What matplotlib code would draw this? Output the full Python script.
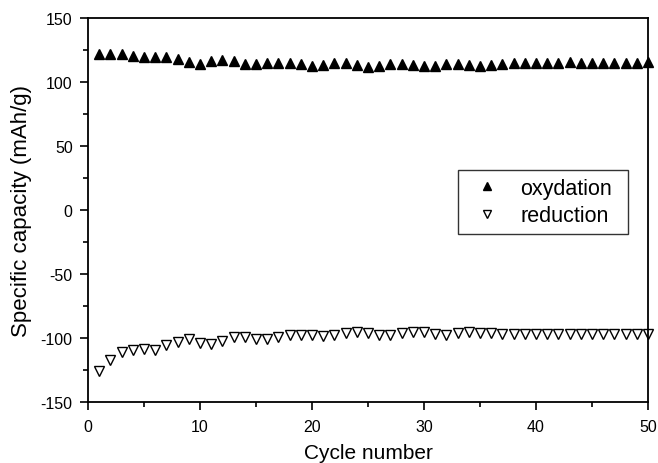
import matplotlib
matplotlib.use("Agg")
import matplotlib.pyplot as plt
from matplotlib.ticker import MultipleLocator

plt.rcParams['font.family'] = ['Liberation Sans', 'DejaVu Sans']
plt.rcParams['axes.unicode_minus'] = False

cycles = list(range(1, 51))
oxydation = [121.5, 121.5, 121.5, 120.2, 119.7, 119.7, 119.7, 117.6, 115.3, 114.0,
             116.3, 117.1, 116.3, 114.0, 114.0, 114.5, 114.5, 114.5, 114.0, 112.7,
             113.2, 114.5, 114.5, 113.2, 111.9, 112.4, 114.0, 114.0, 113.2, 112.4,
             112.4, 114.0, 114.0, 113.2, 112.4, 113.2, 114.0, 115.0, 115.0, 114.5,
             114.5, 114.5, 115.8, 115.0, 115.0, 114.5, 114.5, 115.0, 115.0, 115.3]
reduction = [-126.1, -117.1, -111.3, -109.4, -108.6, -109.4, -105.5, -102.9, -100.8, -104.0,
             -104.8, -102.7, -99.6, -99.6, -100.4, -100.4, -99.6, -97.7, -97.7, -97.7,
             -98.8, -97.7, -96.4, -95.6, -96.2, -97.5, -97.5, -96.4, -95.6, -95.1,
             -96.9, -97.5, -96.4, -95.6, -96.2, -96.4, -96.9, -96.9, -96.9, -96.9,
             -96.9, -96.9, -96.9, -96.9, -96.9, -96.9, -96.9, -96.9, -96.9, -96.9]

fig = plt.figure(figsize=(6.58, 4.64), dpi=100)
ax = fig.add_axes([88/658, 1 - 403/464, 560/658, 384/464])

ax.plot(cycles, oxydation, linestyle='none', marker='^', markersize=6.5,
        color='black', label='oxydation', clip_on=False)
ax.plot(cycles, reduction, linestyle='none', marker='v', markersize=6.5,
        markerfacecolor='white', markeredgecolor='black', markeredgewidth=1.0,
        label='reduction', clip_on=False)

ax.set_xlim(0, 50)
ax.set_ylim(-150, 150)
ax.xaxis.set_major_locator(MultipleLocator(10))
ax.xaxis.set_minor_locator(MultipleLocator(5))
ax.yaxis.set_major_locator(MultipleLocator(50))
ax.yaxis.set_minor_locator(MultipleLocator(25))
ax.tick_params(which='both', direction='out', top=False, right=False,
               labelsize=11.5, width=1.2)
ax.tick_params(which='major', length=6)
ax.tick_params(which='minor', length=3.5)
ax.tick_params(axis='x', which='major', pad=6)
ax.tick_params(axis='y', which='major', pad=5)
for s in ax.spines.values():
    s.set_linewidth(1.3)

ax.set_xlabel('Cycle number', fontsize=15, labelpad=7)
ax.set_ylabel('Specific capacity (mAh/g)', fontsize=16, labelpad=6)

leg = ax.legend(loc='lower left', bbox_to_anchor=(0.661, 0.4375, 0.303, 0.17),
                mode='expand', borderaxespad=0, fontsize=15.5, frameon=True,
                fancybox=False, edgecolor='black', borderpad=0.35,
                handletextpad=0.53, labelspacing=0.3, handlelength=2.0,
                markerscale=0.85)
leg.get_frame().set_linewidth(1.0)

fig.savefig('out.png', dpi=100)
